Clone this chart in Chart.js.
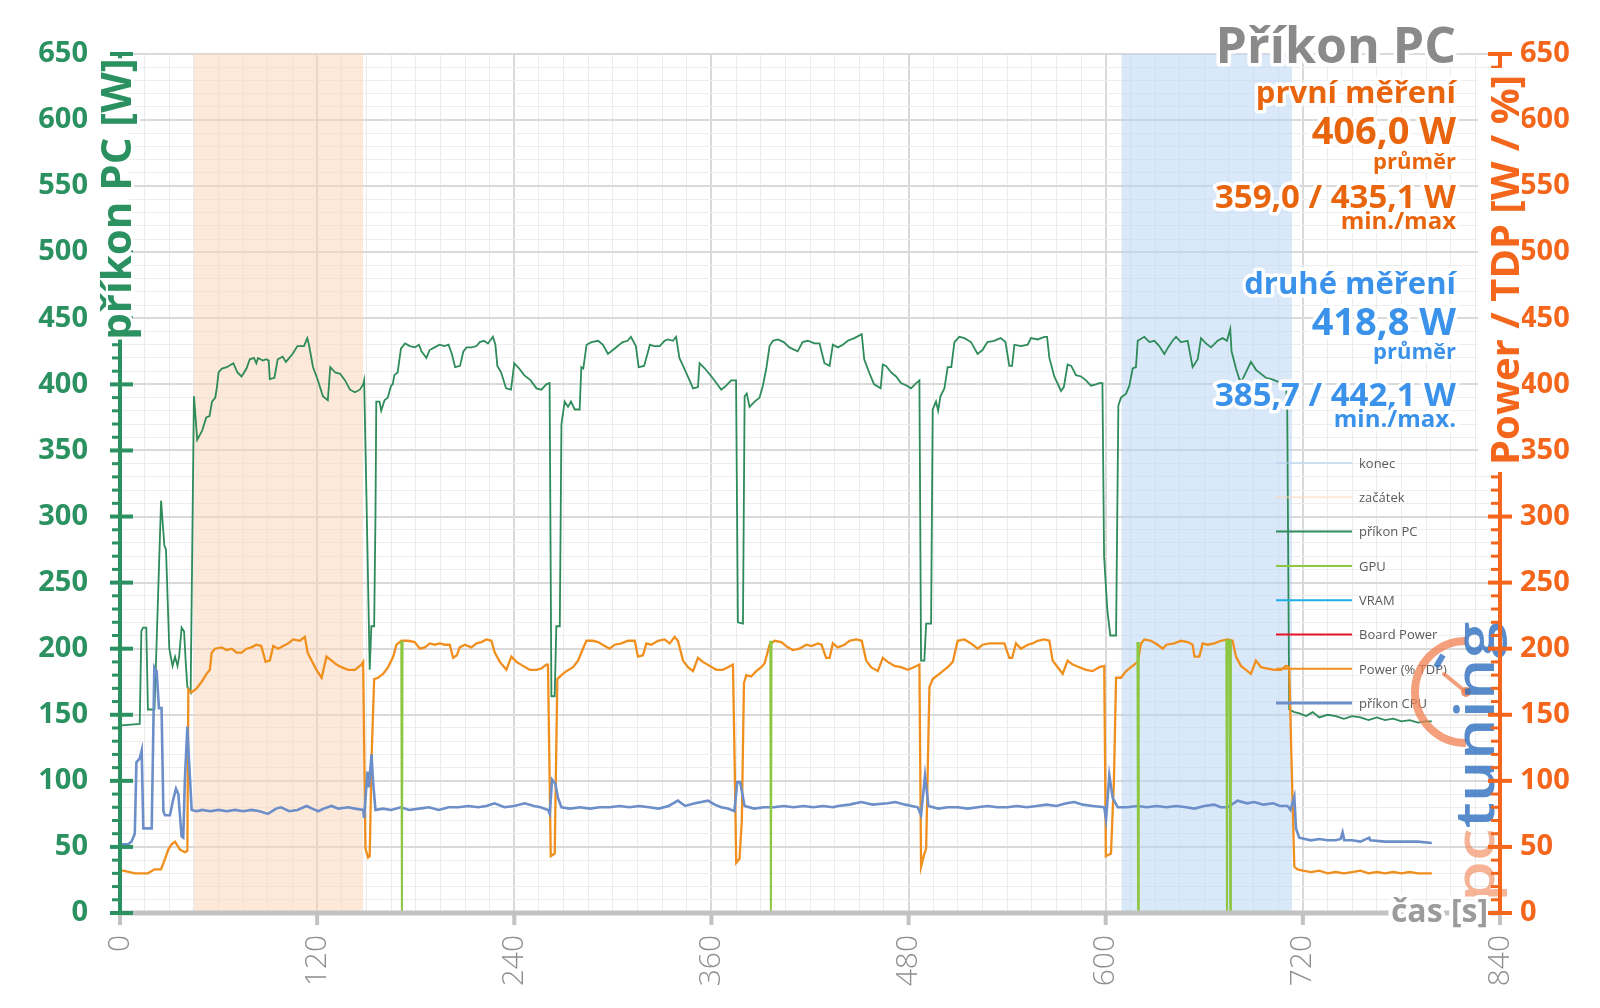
<!DOCTYPE html>
<html>
<head>
<meta charset="utf-8">
<script src="https://cdn.jsdelivr.net/npm/chart.js@4.4.0/dist/chart.umd.min.js"></script>
<style>
  html, body { margin: 0; padding: 0; background: #fff; }
  canvas { display: block; }
</style>
</head>
<body>
<canvas id="chart" width="1600" height="1008"></canvas>
<script>
// --- data (time in s, power in W / %) ---
const pcT = [1,12,13,14,16,17,21,25,27,28,30,32,33.5,35,36,37.5,39,40,41,43,45,46,47,50,52.5,54.5,56,58,59,60,62,65,69,71.5,74,77,79,81.5,83,84,87,89,90.5,91.2,94,96,99,101,105,108,112,114,115,117.5,120.5,123.5,126.5,128,131,134,137,140,143,146,148,148.6,150,152,153,154.7,155.5,156,158,159,161,163,165,166,167,169,171,173.5,176.5,179.5,182,183.5,186.5,188.5,191.5,194.5,197.5,200,202,204,207,209,211,214,217,219,221.5,224,227,228.5,229.7,232,235,238,240,243,246,250,253.5,256.5,259.5,261.5,262.6,264.6,265.6,267.7,268.7,270.7,272.7,274.5,276.8,279.8,280.8,282,284,287,291,294,297,300,303,306,309,311,314,315.7,319,321.5,322.5,325,328.5,331.5,333.5,336.5,338.5,340.5,343.5,346.7,348.8,351.8,352.8,356,360,363,366,369,372,375,376.1,379.2,380.2,381.5,383.2,386.3,389.3,391.3,393.4,395.4,397.4,400.5,404,407.5,412.5,415.5,418.7,422.7,425.8,428.8,431.9,433.9,437,440,443,447,451.5,453,456,459,463,464.3,466.3,469.4,472.4,475.4,479,481.5,484.6,486.6,487.6,489.6,490.7,493.7,494.7,496.7,498,499.4,501.8,503.8,506,507.9,510.9,514,518,522,525,528,532,536,539,541.3,543,544.4,548.4,552.5,554.5,558.6,562.6,564.3,565.7,568.7,572.8,574.5,576.8,579,581.9,585,588,591,594,596,598,599,601,602.8,606.3,607.7,609.3,612.4,614.4,616.4,618.4,619.5,623.5,626.6,629.6,632.6,635.7,638,640.7,642.8,645.8,649.9,652.9,656,658,661,664.1,668.1,671.2,673.8,675.8,676.6,679.3,681.3,683,688.4,691.5,697.5,701,705,709.7,710.5,711.7,714.8,718,722,726,730,735,740,745,750,755,760,765,770,775,780,785,790,795,798.5];
const pcV = [142,143,213,216,216,154,154,312,278,275,200,187,194,187,194,216,213,190,171,167,391,375,358,365,375,376,387,390,398,409,412,413,416,409,406,412,419,420,416,420,418,419,418,404,405,419,421,417,423,429,429,435,430,413,403,391,388,413,409,408,403,396,394,396,400,403,316,184,217,217,300,387,387,380,388,390,399,400,407,409,427,431,429,428,430,425,420,426,428,430,429,430,423,413,414,425,428,428,429,432,433,431,436,430,414,409,397,396,416,412,407,403,397,396,400,401,164,164,217,217,370,387,383,387,381,381,413,412,430,432,433,430,423,426,429,432,433,436,429,413,414,425,430,429,429,433,434,433,436,420,412,403,397,398,416,412,406,401,396,399,403,403,220,219,391,393,383,387,390,399,412,429,433,434,432,428,425,432,433,431,431,416,414,430,428,430,433,435,438,419,409,400,397,415,414,409,406,401,399,397,401,403,191,191,219,219,381,387,380,391,397,413,413,432,436,435,432,423,426,432,433,435,432,414,414,430,429,430,435,434,436,436,420,406,395,398,415,414,407,406,403,399,400,401,401,270,229,210,210,384,390,393,399,412,413,433,436,432,433,429,423,428,433,436,432,433,413,419,435,431,428,433,435,433,442,425,412,404,403,417,411,405,404,402,402,380,154,152,151,149,152,148,150,149,147,149,148,146,148,146,147,145,146,144,145,145];

const tdpT = [0,2,9,17,21,25,27.4,29.4,31.4,33.5,34.5,36.5,39.5,41,41.6,43.6,46.6,49.7,52.7,54.7,55.8,57.8,61.8,64.9,68,71,74,77,80,83,86,88.6,91.2,93.3,96.3,99.3,102.4,105.4,109.5,112.5,114.2,116.6,119.6,122.7,125.7,128.8,131.8,134.8,138.9,143,147,148,149.4,151,152,153.1,154.7,157.1,160.2,163.2,166.3,168.3,171.3,175.4,179.4,182.5,185.5,188.6,191.6,194.6,197.7,200.7,202.8,205,206.8,209.9,213.9,217,220,223,226.1,228.1,231.2,235.2,238.2,241.3,245.3,249.4,253.5,256.5,259.5,260.5,262.2,264.6,266.2,268.7,271.7,275.8,278.8,281.8,283.9,287.9,291,295,298.1,301.1,305.2,309.2,313.3,315.3,318.3,320.4,323.4,327.5,331.5,334.6,337.6,339.6,342.7,345.7,348.8,351.8,354.8,358.9,363,367,370,373.1,374.1,375.1,377.1,378.5,379.8,381.2,384.2,387.3,390.3,392.4,395.4,398.4,402.5,406.5,409.6,413.6,417.7,421,424.8,427,429.8,431.9,433.9,436.9,441,444,448.1,451.5,454.2,457.2,461.3,464.3,467.3,471.4,475.4,479.5,483.2,486.6,487.6,489.2,490.7,492.7,494.7,497.8,500.8,503.8,506.9,509.9,514,518,522.1,525.1,529.2,533.2,538.3,541.3,543,545.4,548.4,552.5,555.5,558.6,562.6,565.7,567.7,570.8,573.8,576.8,579.9,583.9,588,592,596.1,599.1,600.1,603.2,605,606.3,609.3,612.4,616.4,619.5,621.5,623.5,627.6,631.6,634.7,637,641.8,645.8,649.9,652.9,654,657,659,662,666.1,670.1,674.2,677.2,679.3,682.3,685.4,688.4,691.4,694.5,698.5,702.6,706.7,709.7,711.7,713,714.8,716.8,720,725,730,735,740,745,750,755,760,765,770,775,780,785,790,795,798.5];
const tdpV = [32,32,30,30,33,33,41,48,52,54,52,48,46,47,169,167,170,175,181,184,197,200,201,199,200,197,197,200,201,203,202,190,191,202,200,202,204,207,206,209,197,191,184,178,194,191,188,186,184,184,188,190,49,42,43,116,177,178,181,186,194,203,206,206,205,200,201,204,203,204,203,203,193,195,201,203,201,204,205,207,206,197,190,184,194,190,187,184,184,185,188,188,43,45,177,180,183,186,191,200,206,206,205,202,200,203,204,206,206,194,195,204,203,206,207,204,209,206,191,186,183,193,190,187,184,184,186,188,116,38,41,70,174,180,179,183,186,189,203,206,205,201,199,200,203,202,204,203,193,193,204,201,203,206,207,206,191,186,183,193,190,187,186,184,186,188,35,43,49,171,177,180,183,186,190,206,207,204,200,203,204,204,204,193,193,204,200,203,204,206,207,206,191,186,181,191,188,186,184,183,186,187,43,45,100,178,178,183,187,190,204,207,206,203,200,203,204,206,205,203,194,194,204,203,204,206,207,206,194,187,184,181,191,186,185,184,184,187,186,120,35,33,32,31,32,30,31,30,31,32,30,31,30,31,30,31,30,30,30];

const cpuT = [0,5,7,9,10,12,13.2,14.2,19.3,20.9,22.3,23.7,25.3,26.4,27.4,30.4,32.4,34.1,35.5,37.5,38.5,39.5,41,42,43.6,46.6,50,55,60,65,70,75,80,85,90,95,98,103,108,113.5,117,120.6,124,128.7,133,138.9,143,148,148.6,150.6,151.5,153.1,154,155.5,160,165,171,176,182,188,194,200,206,212,218,223,228,234,240,246.4,252,256,260.6,261.6,263,265,266.6,268.7,274,280,286,292,298,304,310,316,322,328,334,339.6,344,350,357.9,362,366,370,374,375.7,377.5,380.2,386,392,398,404,410,416,422,428,434,437,444,451.2,458,467.3,472,478,485.6,487.6,490,492.1,498,504,510,516,522,528,534,540,546,552,558,564,570,576,580.9,586,592,599.1,600.2,602.2,604.3,607.3,613,619.5,625,631,637,643,649,654,660,666,670,674.2,680.3,686,690.4,696,702,706,710.7,712.5,714.8,715.8,717.8,724.9,730,735,740,743,744.2,745.2,750,755,760.4,761,770,780,790,798.5];
const cpuV = [52,52,54,60,114,117,123,64,64,186,183,155,155,77,74,74,86,94,90,58,57,101,141,116,78,77,78,77,78,77,78,77,78,77,75,79,80,77,78,81,79,77,79,81,79,80,79,78,72,107,95,120,100,78,79,78,80,78,79,80,78,80,80,81,80,81,83,80,81,83,81,80,78,75,101,98,87,80,79,80,79,80,80,81,80,81,80,79,81,85,81,83,85,82,80,79,77,99,99,81,79,80,80,81,80,81,80,81,80,81,82,84,82,83,84,82,80,74,104,81,79,80,80,79,80,81,80,80,81,80,81,82,81,83,84,82,81,80,71,104,87,80,80,81,80,81,80,81,80,79,81,82,80,80,85,83,84,82,83,81,81,78,88,64,57,55,56,55,55,56,61,55,55,54,57,55,54,54,54,53];

const gpuT = [171.2,171.6,172.0,172.1,395.8,396.2,396.6,396.7,619.3,619.7,620.1,620.2,673.4,673.8,674.2,674.3,675.4,675.8,676.2];
const gpuV = [206,0,206,null,206,0,206,null,205,0,205,null,207,0,207,null,207,0,207];

// marked intervals
const zacatekT = [44.8, 148];
const konecT = [609.5, 713.4];
const regionTop = 650;

// axes
const yMax = 650;
const xMax = 840;
const yLabelStep = 50;
const xLabelStep = 120;

const pts = (t, v) => t.map((x, i) => ({x: x, y: v[i]}));

const FONT = "'Open Sans', 'Noto Sans', sans-serif";
const GREEN = '#2b9160';
const ORANGE_AX = '#f4661c';
const ORANGE_TXT = '#e8650e';
const BLUE_TXT = '#3a92ea';

function line(ctx, x1, y1, x2, y2) {
  ctx.beginPath(); ctx.moveTo(x1, y1); ctx.lineTo(x2, y2); ctx.stroke();
}

function haloText(ctx, text, x, y, font, color, align, halo) {
  ctx.font = font;
  ctx.textAlign = align || 'right';
  ctx.textBaseline = 'alphabetic';
  ctx.lineJoin = 'round';
  ctx.strokeStyle = '#fff';
  ctx.lineWidth = halo || 7;
  ctx.strokeText(text, x, y);
  ctx.fillStyle = color;
  ctx.fillText(text, x, y);
}

const deco = {
  id: 'deco',
  afterDraw(chart) {
    const ctx = chart.ctx;
    const sx = chart.scales.x, sy = chart.scales.y, sy2 = chart.scales.y2;
    const a = chart.chartArea;
    ctx.save();

    // legend inside plot
    const rows = chart.data.datasets;
    ctx.font = '13px ' + FONT;
    ctx.textAlign = 'left';
    ctx.textBaseline = 'middle';
    rows.forEach((ds, i) => {
      const yy = 463 + i * 34.3;
      ctx.strokeStyle = ds.legendColor || ds.borderColor;
      ctx.lineWidth = ds.legendWidth || 2;
      line(ctx, 1276, yy, 1352, yy);
      ctx.fillStyle = '#5a5a5a';
      ctx.fillText(ds.label, 1359, yy + 1);
    });

    // watermark logo
    ctx.save();
    ctx.strokeStyle = 'rgba(240,128,80,0.75)';
    ctx.lineWidth = 8;
    ctx.beginPath();
    ctx.arc(1466, 692, 51, -Math.PI / 2, Math.PI / 2, true);
    ctx.stroke();
    ctx.lineWidth = 4; ctx.lineCap = 'round';
    line(ctx, 1466, 692, 1444, 674);
    ctx.fillStyle = 'rgba(240,128,80,0.85)';
    ctx.beginPath(); ctx.arc(1466, 692, 5, 0, Math.PI * 2); ctx.fill();
    ctx.strokeStyle = 'rgba(50,115,195,0.8)';
    ctx.lineWidth = 6; ctx.lineCap = 'butt';
    line(ctx, 1436, 667, 1443, 655);
    ctx.translate(1494, 902);
    ctx.rotate(-Math.PI / 2);
    ctx.scale(1.22, 1);
    ctx.font = '600 54px ' + FONT;
    ctx.textAlign = 'left';
    ctx.textBaseline = 'alphabetic';
    ctx.fillStyle = 'rgba(240,128,80,0.6)';
    ctx.fillText('pc', 0, 0);
    const w = ctx.measureText('pc').width;
    ctx.fillStyle = 'rgba(45,110,190,0.8)';
    ctx.fillText('tuning', w, 0);
    ctx.restore();

    // x axis
    ctx.strokeStyle = '#c2c2c2';
    ctx.lineWidth = 5;
    line(ctx, a.left, a.bottom, a.right, a.bottom);
    ctx.lineWidth = 4;
    sx.ticks.forEach(t => {
      if (t.value % xLabelStep !== 0) return;
      const px = sx.getPixelForValue(t.value);
      line(ctx, px, a.bottom, px, a.bottom + 12);
    });
    haloText(ctx, 'čas [s]', 1488, 922, 'bold 32px ' + FONT, '#9b9b9b', 'right', 8);

    // left axis
    ctx.strokeStyle = GREEN;
    ctx.lineWidth = 4;
    line(ctx, a.left, a.bottom + 2, a.left, a.top);
    sy.ticks.forEach(t => {
      const py = sy.getPixelForValue(t.value);
      if (t.value % yLabelStep === 0) { ctx.lineWidth = 4; line(ctx, a.left - 10, py, a.left + 13, py); }
      else { ctx.lineWidth = 3; line(ctx, a.left - 8, py, a.left + 2, py); }
    });

    // right axis
    ctx.strokeStyle = ORANGE_AX;
    ctx.lineWidth = 4;
    line(ctx, a.right, a.bottom + 2, a.right, a.top);
    sy2.ticks.forEach(t => {
      const py = sy2.getPixelForValue(t.value);
      if (t.value % yLabelStep === 0) { ctx.lineWidth = 4; line(ctx, a.right - 12, py, a.right + 12, py); }
      else { ctx.lineWidth = 3; line(ctx, a.right - 9, py, a.right + 1, py); }
    });

    // axis titles with white ground
    ctx.fillStyle = '#fff';
    ctx.fillRect(96, 62, 33, 276);
    ctx.save();
    ctx.translate(131, 199);
    ctx.rotate(-Math.PI / 2);
    haloText(ctx, 'příkon PC [W]', 0, 0, 'bold 42px ' + FONT, GREEN, 'center', 6);
    ctx.restore();

    ctx.fillStyle = '#fff';
    ctx.fillRect(1478, 68, 44, 404);
    ctx.save();
    ctx.translate(1519, 270);
    ctx.rotate(-Math.PI / 2);
    haloText(ctx, 'Power / TDP [W / %]', 0, 0, 'bold 40px ' + FONT, ORANGE_AX, 'center', 6);
    ctx.restore();

    // info block
    const R = 1456;
    haloText(ctx, 'Příkon PC', R, 63, 'bold 50px ' + FONT, '#8a8a8a');
    haloText(ctx, 'první měření', R, 103, 'bold 31px ' + FONT, ORANGE_TXT);
    haloText(ctx, '406,0 W', R, 144, 'bold 38px ' + FONT, ORANGE_TXT);
    haloText(ctx, 'průměr', R, 169, 'bold 22px ' + FONT, ORANGE_TXT);
    haloText(ctx, '359,0 / 435,1 W', R, 208, 'bold 33px ' + FONT, ORANGE_TXT);
    haloText(ctx, 'min./max', R, 229, 'bold 24px ' + FONT, ORANGE_TXT);
    haloText(ctx, 'druhé měření', R, 294, 'bold 31px ' + FONT, BLUE_TXT);
    haloText(ctx, '418,8 W', R, 335, 'bold 38px ' + FONT, BLUE_TXT);
    haloText(ctx, 'průměr', R, 359, 'bold 22px ' + FONT, BLUE_TXT);
    haloText(ctx, '385,7 / 442,1 W', R, 406, 'bold 33px ' + FONT, BLUE_TXT);
    haloText(ctx, 'min./max.', R, 427, 'bold 24px ' + FONT, BLUE_TXT);

    ctx.restore();
  }
};

const lineDs = (label, data, color, width, order, axis) => ({
  label: label, data: data, borderColor: color, borderWidth: width,
  pointRadius: 0, tension: 0, fill: false, order: order,
  yAxisID: axis || 'y', spanGaps: false
});

new Chart(document.getElementById('chart'), {
  type: 'line',
  data: {
    datasets: [
      {label: 'konec', data: pts(konecT, [regionTop, regionTop]), borderColor: 'rgba(0,0,0,0)',
       backgroundColor: 'rgba(182,212,246,0.5)', fill: 'origin', pointRadius: 0, borderWidth: 0,
       order: 20, legendColor: 'rgba(180,208,240,0.6)'},
      {label: 'začátek', data: pts(zacatekT, [regionTop, regionTop]), borderColor: 'rgba(0,0,0,0)',
       backgroundColor: 'rgba(251,212,182,0.5)', fill: 'origin', pointRadius: 0, borderWidth: 0,
       order: 21, legendColor: 'rgba(250,215,190,0.6)'},
      lineDs('příkon PC', pts(pcT, pcV), '#2e8b5a', 1.8, 4),
      lineDs('GPU', pts(gpuT, gpuV), '#8dc641', 2, 1),
      lineDs('VRAM', [], '#1eaee8', 2, 5),
      lineDs('Board Power', [], '#e8142a', 2, 6),
      lineDs('Power (% TDP)', pts(tdpT, tdpV), '#f18f1e', 2.3, 3, 'y2'),
      Object.assign(lineDs('příkon CPU', pts(cpuT, cpuV), '#6c8ec9', 2.6, 2), {legendWidth: 3})
    ]
  },
  options: {
    responsive: false,
    devicePixelRatio: 1,
    animation: false,
    events: [],
    layout: {padding: {top: 54}},
    plugins: {legend: {display: false}, tooltip: {enabled: false}},
    scales: {
      x: {
        type: 'linear', min: 0, max: xMax,
        afterFit: s => { s.height = 95; },
        border: {display: false},
        grid: {
          drawTicks: false,
          color: c => c.tick && c.tick.value % xLabelStep === 0 ? '#d9d9d9' : '#ececec',
          lineWidth: c => c.tick && c.tick.value % xLabelStep === 0 ? 2 : 1
        },
        ticks: {
          stepSize: 15, autoSkip: false, minRotation: 90, maxRotation: 90, padding: 22,
          color: '#8e8e8e', font: {family: FONT, size: 30, weight: '300'},
          callback: v => v % xLabelStep === 0 ? String(v) : ''
        }
      },
      y: {
        type: 'linear', position: 'left', min: 0, max: yMax,
        afterFit: s => { s.width = 120; },
        border: {display: false},
        grid: {
          drawTicks: false,
          color: c => c.tick && c.tick.value % yLabelStep === 0 ? '#dadada' : '#eeeeee',
          lineWidth: c => c.tick && c.tick.value % yLabelStep === 0 ? 2 : 1
        },
        ticks: {
          stepSize: 10, autoSkip: false, padding: 32, color: GREEN,
          font: {family: FONT, size: 29, weight: 'bold'},
          callback: v => v % yLabelStep === 0 ? String(v) : ''
        }
      },
      y2: {
        type: 'linear', position: 'right', min: 0, max: yMax,
        afterFit: s => { s.width = 100; },
        border: {display: false},
        grid: {display: false, drawTicks: false},
        ticks: {
          stepSize: 10, autoSkip: false, padding: 20, color: ORANGE_AX,
          font: {family: FONT, size: 29, weight: 'bold'},
          callback: v => v % yLabelStep === 0 ? String(v) : ''
        }
      }
    }
  },
  plugins: [deco]
});
</script>
</body>
</html>
